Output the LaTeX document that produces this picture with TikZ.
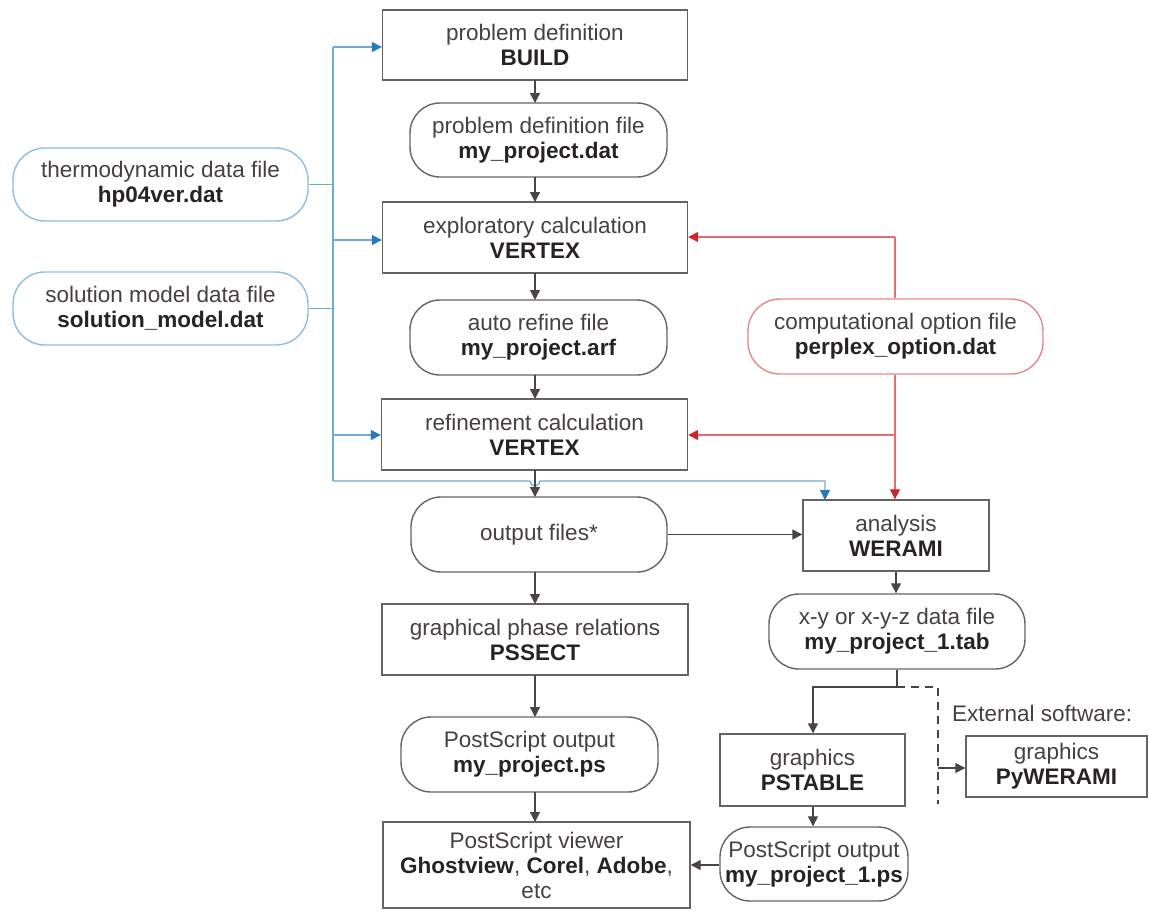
\documentclass[tikz,border=0pt]{standalone}
\usepackage{fontspec}
\setmainfont{Liberation Sans}
\usetikzlibrary{arrows.meta}
\definecolor{boxc}{RGB}{105,98,98}
\definecolor{linec}{RGB}{75,68,68}
\definecolor{txtc}{RGB}{70,64,64}
\definecolor{boldc}{RGB}{40,35,35}
\definecolor{bluel}{RGB}{112,170,215}
\definecolor{bluet}{RGB}{40,120,190}
\definecolor{blueb}{RGB}{140,190,225}
\definecolor{redl}{RGB}{230,110,110}
\definecolor{redt}{RGB}{205,40,40}
\definecolor{redb}{RGB}{232,135,135}
\newcommand{\bd}[1]{{\color{boldc}\textbf{#1}}}
\begin{document}
\begin{tikzpicture}[x=1pt,y=-1pt,
  every node/.style={font=\fontsize{22.5}{25}\selectfont, text=txtc, align=center, inner sep=0pt},
  box/.style={draw=boxc, line width=1.4pt, rectangle},
  file/.style={draw=boxc, line width=1.4pt, rectangle, rounded corners=30pt},
  bfile/.style={draw=blueb, line width=1.4pt, rectangle, rounded corners=32pt},
  rfile/.style={draw=redb, line width=1.4pt, rectangle, rounded corners=32pt},
  arr/.style={draw=linec, line width=1.3pt, -{Triangle[length=10pt,width=10pt]}},
  plain/.style={draw=linec, line width=1.3pt},
  dsh/.style={draw=linec, line width=1.3pt, dash pattern=on 8pt off 6pt},
  bline/.style={draw=bluel, line width=1.3pt},
  barr/.style={draw=bluel, line width=1.3pt, -{Triangle[length=10pt,width=10pt,color=bluet]}},
  rline/.style={draw=redl, line width=1.3pt},
  rarr/.style={draw=redl, line width=1.3pt, -{Triangle[length=10pt,width=10pt,color=redt]}}]
\useasboundingbox (0,0) rectangle (1149,911);

% main column
\node[box, minimum width=305pt, minimum height=70pt] (build) at (535,45) {problem definition\\\bd{BUILD}};
\node[file, minimum width=257pt, minimum height=74pt] (pdf) at (538.5,140) {problem definition file\\\bd{my\_project.dat}};
\node[box, minimum width=305pt, minimum height=71pt] (expl) at (535,237.5) {exploratory calculation\\\bd{VERTEX}};
\node[file, minimum width=257pt, minimum height=75pt] (arf) at (538.5,337.5) {auto refine file\\\bd{my\_project.arf}};
\node[box, minimum width=306pt, minimum height=71pt] (refine) at (534.5,434.5) {refinement calculation\\\bd{VERTEX}};
\node[file, minimum width=256pt, minimum height=75pt] (out) at (539,534.5) {output files*};
\node[box, minimum width=306pt, minimum height=71pt] (graph) at (535,639.5) {graphical phase relations\\\bd{PSSECT}};
\node[file, minimum width=257pt, minimum height=75pt] (pso) at (529.5,754.5) {PostScript output\\\bd{my\_project.ps}};
\node[box, minimum width=307pt, minimum height=86pt] (viewer) at (536.5,865) {PostScript viewer\\\bd{Ghostview}, \bd{Corel}, \bd{Adobe},\\etc};

% left inputs
\node[bfile, minimum width=295pt, minimum height=73pt] (thermo) at (160.5,184.5) {thermodynamic data file\\\bd{hp04ver.dat}};
\node[bfile, minimum width=295pt, minimum height=73pt] (sol) at (160.5,308.5) {solution model data file\\\bd{solution\_model.dat}};

% right column
\node[rfile, minimum width=295pt, minimum height=75pt] (comp) at (895.5,336.5) {computational option file\\\bd{perplex\_option.dat}};
\node[box, minimum width=186pt, minimum height=71pt] (weram) at (896,535.5) {analysis\\\bd{WERAMI}};
\node[file, minimum width=256pt, minimum height=75pt] (xy) at (897,631.5) {x-y or x-y-z data file\\\bd{my\_project\_1.tab}};
\node[box, minimum width=185pt, minimum height=72pt] (pstable) at (812.5,770) {graphics\\\bd{PSTABLE}};
\node[file, minimum width=188pt, minimum height=74pt] (pso1) at (814,864) {PostScript output\\\bd{my\_project\_1.ps}};
\node[box, minimum width=181pt, minimum height=61pt] (pywer) at (1056.5,766.5) {graphics\\\bd{PyWERAMI}};
\node[anchor=west] (ext) at (952,713) {External software:};

% coordinates
\coordinate (bx) at (333,47);
\coordinate (bbot) at (333,481);
\coordinate (rtop) at (895,237);
\coordinate (rmid) at (895,435);
\coordinate (jx) at (897,687);
\coordinate (jl) at (813,687);
\coordinate (dr) at (938,687);
\coordinate (dend) at (938,804);
\coordinate (dbr) at (938,768);

% blue connectors
\draw[bline] (thermo.east) -- (thermo.east -| bx);
\draw[bline] (sol.east) -- (sol.east -| bx);
\draw[bline] (bx) -- (bbot);
\draw[barr] (bx) -- (bx -| build.west);
\draw[barr] (333,240) -- (expl.west |- 0,240);
\draw[barr] (333,435) -- (refine.west |- 0,435);
\draw[barr] (bbot) -- (530,481) arc[start angle=180, end angle=360, radius=5pt] -- (825,481) -- (825,500);

% red connectors
\draw[rline] (comp.north -| rtop) -- (rtop);
\draw[rarr] (rtop) -- (expl.east |- rtop);
\draw[rarr] (rmid) -- (refine.east |- rmid);
\draw[rarr] (comp.south -| rtop) -- (weram.north -| rtop);

% black connectors
\draw[arr] (535,80) -- (535,103);
\draw[arr] (535,177) -- (535,202);
\draw[arr] (535,273) -- (535,300);
\draw[arr] (535,375) -- (535,399);
\draw[arr] (535,470) -- (535,497);
\draw[arr] (535,572) -- (535,604);
\draw[arr] (535,675) -- (535,717);
\draw[arr] (535,792) -- (535,822);
\draw[arr] (out.east) -- (weram.west |- out.east);
\draw[arr] (weram.south) -- (weram.south |- xy.north);
\draw[plain] (xy.south -| jx) -- (jx);
\draw[arr] (jx) -- (jl) -- (jl |- pstable.north);
\draw[arr] (pstable.south -| 813,0) -- (pso1.north -| 813,0);
\draw[arr] (pso1.west |- 0,865) -- (viewer.east |- 0,865);
\draw[dsh] (jx) -- (dr) -- (dend);
\draw[arr] (dbr) -- (pywer.west |- dbr);
\end{tikzpicture}
\end{document}
